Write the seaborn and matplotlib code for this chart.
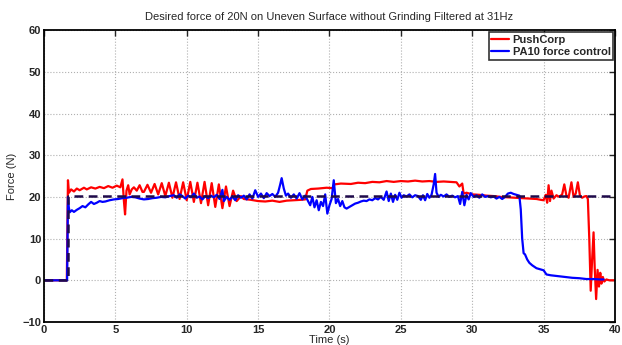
import matplotlib
matplotlib.use("Agg")
import matplotlib.pyplot as plt
import seaborn as sns
import pandas as pd

# PushCorp measured force (time in s, force in N)
push_t = [0, 1.6, 1.68, 1.75, 1.9, 2.1, 2.3, 2.5, 2.8, 3.0, 3.3, 3.6, 3.9, 4.2, 4.5, 4.8,
          5.1, 5.35, 5.5, 5.6, 5.68, 5.78, 5.9, 6.0, 6.15, 6.3, 6.5, 6.7, 6.9, 7.0, 7.25,
          7.5, 7.75, 8.0, 8.25, 8.5, 8.75, 9.0, 9.25, 9.5, 9.75, 10.0, 10.25, 10.5, 10.75,
          11.0, 11.25, 11.5, 11.75, 12.0, 12.25, 12.5, 12.75, 13.0, 13.25, 13.5, 13.8, 14.0,
          14.5, 15.0, 15.5, 16.0, 16.5, 17.0, 17.5, 18.0, 18.3, 18.45, 18.7, 19.2, 19.8,
          20.2, 20.35, 20.8, 21.5, 22.0, 22.5, 23.0, 23.5, 24.0, 24.5, 25.0, 25.5, 26.0,
          26.5, 27.0, 27.5, 28.0, 28.5, 28.9, 29.1, 29.3, 29.4, 29.6, 30.0, 30.5, 31.0,
          31.5, 32.0, 32.5, 33.0, 33.5, 34.0, 34.5, 34.8, 35.0, 35.15, 35.25, 35.35, 35.45,
          35.55, 35.7, 35.9, 36.1, 36.3, 36.45, 36.6, 36.75, 36.95, 37.1, 37.25, 37.4,
          37.55, 37.7, 37.85, 38.0, 38.1, 38.2, 38.3, 38.4, 38.5, 38.58, 38.68, 38.78,
          38.88, 38.97, 39.05, 39.15, 39.25, 39.4, 39.6, 40.0]
push_f = [0, 0, 24.0, 21.0, 21.8, 21.3, 22.0, 21.6, 22.2, 21.8, 22.3, 22.0, 22.4, 22.1, 22.6, 22.2,
          22.7, 22.3, 24.2, 19.0, 15.8, 21.5, 22.8, 20.6, 21.8, 22.3, 21.5, 22.8, 21.2, 21.2, 22.9,
          21.0, 23.1, 20.6, 23.3, 20.2, 23.4, 19.8, 23.5, 19.5, 23.5, 19.2, 23.6, 18.8, 23.4,
          18.5, 23.6, 18.0, 23.3, 17.6, 23.0, 17.3, 22.5, 17.8, 21.5, 19.0, 20.2, 19.5,
          19.3, 19.0, 18.9, 19.1, 18.8, 19.1, 19.2, 19.3, 19.4, 21.5, 21.9, 22.0, 22.2,
          22.1, 23.0, 23.2, 23.1, 23.4, 23.3, 23.6, 23.5, 23.8, 23.6, 23.8, 23.7, 23.9,
          23.7, 23.8, 23.6, 23.7, 23.6, 23.5, 22.5, 23.2, 20.8, 21.0, 20.6, 20.5, 20.3,
          20.2, 20.0, 19.9, 19.8, 19.7, 19.6, 19.5, 19.3, 19.2, 20.5, 18.6, 22.8, 19.0,
          21.5, 19.6, 20.4, 20.0, 20.6, 23.0, 20.3, 19.8, 23.5, 20.0, 20.8, 23.5,
          20.2, 19.8, 20.1, 20.2, 19.5, 10.0, -2.5, 5.0, 11.5, 3.0, -4.5, 2.5,
          -1.5, 1.8, -0.8, 0.8, -0.3, 0.2, 0.0, 0.0]

# PA10 force control measured force
pa10_t = [0, 1.62, 1.68, 1.74, 1.8, 1.95, 2.1, 2.3, 2.5, 2.7, 2.9, 3.1, 3.3, 3.5, 3.7, 3.9,
          4.1, 4.3, 4.6, 4.9, 5.2, 5.5, 5.8, 6.1, 6.4, 6.7, 7.0, 7.3, 7.6, 7.9, 8.2, 8.5,
          8.8, 9.1, 9.3, 9.5, 9.7, 9.9, 10.1, 10.3, 10.5, 10.7, 10.9, 11.1, 11.3, 11.5,
          11.7, 11.9, 12.1, 12.3, 12.5, 12.6, 12.8, 13.0, 13.2, 13.4, 13.6, 13.8, 14.0,
          14.2, 14.4, 14.6, 14.8, 15.0, 15.2, 15.4, 15.6, 15.8, 16.0, 16.2, 16.4, 16.55,
          16.65, 16.8, 16.95, 17.1, 17.3, 17.5, 17.7, 17.9, 18.1, 18.3, 18.5, 18.65, 18.8,
          18.95, 19.1, 19.25, 19.4, 19.55, 19.7, 19.85, 20.0, 20.15, 20.3, 20.45, 20.6,
          20.75, 20.9, 21.05, 21.2, 21.4, 21.6, 21.8, 22.0, 22.2, 22.4, 22.6, 22.8, 23.0,
          23.2, 23.4, 23.6, 23.8, 24.0, 24.15, 24.3, 24.45, 24.6, 24.75, 24.9, 25.05,
          25.2, 25.4, 25.6, 25.8, 26.0, 26.2, 26.4, 26.55, 26.7, 26.85, 27.0, 27.15, 27.3,
          27.4, 27.5, 27.65, 27.8, 28.0, 28.2, 28.4, 28.6, 28.8, 29.0, 29.15, 29.3, 29.45,
          29.6, 29.75, 29.9, 30.1, 30.3, 30.5, 30.7, 30.9, 31.1, 31.3, 31.5, 31.7, 31.9,
          32.1, 32.3, 32.5, 32.7, 32.9, 33.1, 33.3, 33.4, 33.5, 33.6, 33.7, 33.85, 34.0,
          34.2, 34.5, 34.8, 35.0, 35.2, 35.5, 36.0, 36.5, 37.0, 37.5, 38.0, 38.5, 39.0, 39.2]
pa10_f = [0, 0, 20.0, 17.5, 16.3, 16.8, 16.4, 16.9, 17.3, 17.8, 17.5, 18.2, 18.8, 18.3, 18.6, 19.0,
          18.8, 18.9, 19.2, 19.4, 19.5, 19.7, 19.8, 20.0, 19.9, 19.6, 19.4, 19.5, 19.7, 19.8, 20.0, 19.9,
          20.2, 20.4, 19.8, 20.6, 20.2, 19.6, 20.3, 19.9, 20.8, 19.8, 20.1, 19.4, 20.2, 19.7,
          20.3, 19.9, 20.5, 19.5, 21.7, 19.0, 20.0, 19.3, 20.1, 19.2, 20.4, 19.8, 20.3,
          19.4, 20.6, 19.6, 21.6, 20.0, 20.8, 19.7, 20.9, 20.2, 20.7, 20.0, 21.0, 23.0,
          24.5, 22.0, 20.3, 20.8, 19.8, 20.6, 19.6, 20.9, 19.4, 20.3, 19.0, 18.0, 20.0,
          17.5, 19.2, 16.8, 18.8, 17.8, 20.6, 16.0, 18.0, 19.5, 24.0, 18.5, 19.5,
          17.8, 19.0, 17.5, 17.2, 17.6, 18.0, 18.4, 18.6, 18.9, 19.1, 19.0, 19.4, 19.2,
          19.7, 19.4, 20.0, 19.3, 21.3, 19.0, 20.8, 18.8, 20.5, 19.3, 21.0, 19.8,
          20.4, 20.1, 20.6, 19.9, 20.4, 20.2, 19.3, 20.4, 19.2, 20.7, 19.8, 20.5, 23.0,
          25.5, 21.0, 20.0, 20.5, 20.1, 20.6, 20.0, 20.3, 19.9, 20.2, 18.3, 21.2, 18.0,
          20.5, 19.4, 20.9, 20.0, 20.4, 19.8, 20.6, 20.0, 20.2, 19.9, 20.1, 19.6, 20.0,
          19.5, 20.0, 20.8, 21.0, 20.7, 20.5, 20.3, 17.0, 10.0, 6.5, 6.2, 5.0, 4.2,
          3.6, 2.9, 2.6, 2.4, 1.4, 1.2, 1.0, 0.8, 0.6, 0.5, 0.3, 0.3, 0.2, 0.2]

# Desired force profile (step to 20 N)
ref_t = [0, 1.65, 1.65, 40]
ref_f = [0, 0, 20.3, 20.3]

push_df = pd.DataFrame({"Time": push_t, "Force": push_f})
pa10_df = pd.DataFrame({"Time": pa10_t, "Force": pa10_f})
ref_df = pd.DataFrame({"Time": ref_t, "Force": ref_f})

sns.set_style("white")
plt.rcParams["font.family"] = ["Liberation Sans", "DejaVu Sans"]

fig = plt.figure(figsize=(6.22, 3.45), dpi=100)
ax = fig.add_axes([0.0707, 0.0667, 0.918, 0.846])

sns.lineplot(data=push_df, x="Time", y="Force", ax=ax, color="#ff0000", lw=1.6,
             estimator=None, sort=False, label="PushCorp")
sns.lineplot(data=pa10_df, x="Time", y="Force", ax=ax, color="#0000ff", lw=1.6,
             estimator=None, sort=False, label="PA10 force control")
sns.lineplot(data=ref_df, x="Time", y="Force", ax=ax, color="#1f0a4a", lw=1.8,
             estimator=None, sort=False, dashes=False, linestyle=(0, (3.5, 2.2)))

ax.set_xlim(0, 40)
ax.set_ylim(-10, 60)
ax.set_xticks(range(0, 41, 5))
ax.set_yticks(range(-10, 61, 10))
ax.grid(True, linestyle=":", color="#b0b0b0", linewidth=0.8)
ax.tick_params(direction="in", length=4, width=1, top=True, right=True,
               labelsize=8, pad=2)
for lab in ax.get_xticklabels() + ax.get_yticklabels():
    lab.set_fontweight("bold")
for sp in ax.spines.values():
    sp.set_linewidth(1.3)
    sp.set_color("black")

ax.set_xlabel("Time (s)", fontsize=8, labelpad=0)
ax.set_ylabel("Force (N)", fontsize=8, labelpad=4)
ax.set_title("Desired force of 20N on Uneven Surface without Grinding Filtered at 31Hz",
             fontsize=8, pad=7)

leg = ax.legend(loc="upper right", borderaxespad=0.15, fontsize=8, frameon=True,
                fancybox=False, handlelength=1.6, handletextpad=0.3,
                borderpad=0.25, labelspacing=0.2, prop={"weight": "bold", "size": 8})
leg.get_frame().set_edgecolor("black")
leg.get_frame().set_linewidth(1.2)

fig.savefig("out.png", dpi=100)
